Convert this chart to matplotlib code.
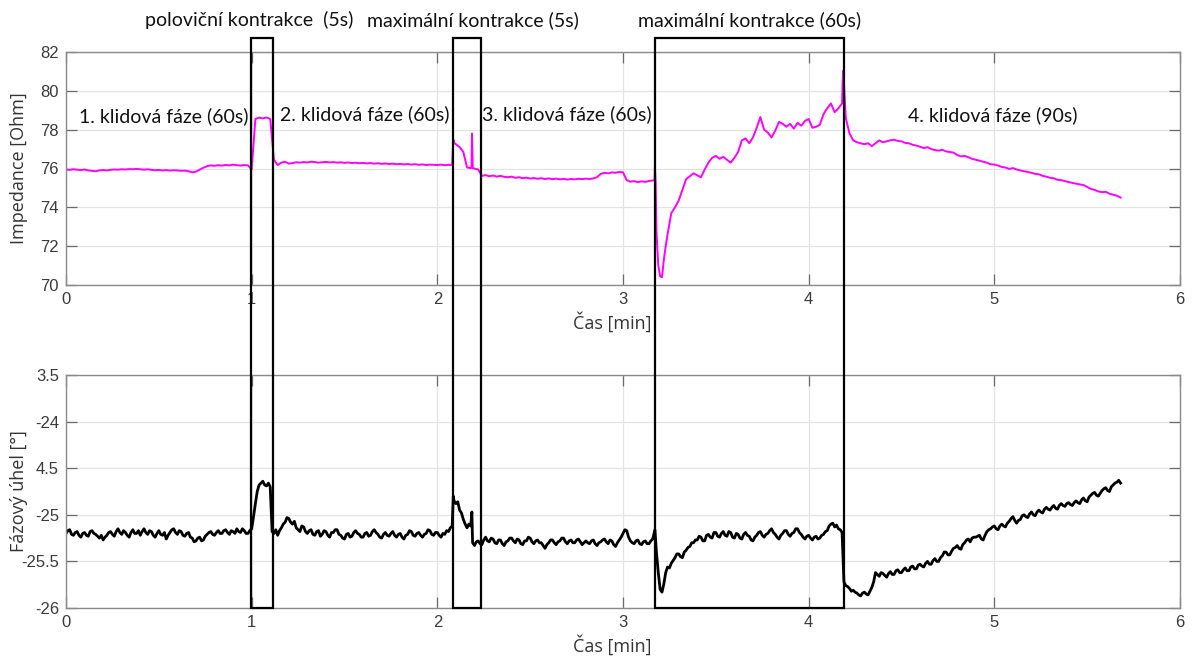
import numpy as np
import matplotlib
matplotlib.use("Agg")
import matplotlib.pyplot as plt
from matplotlib.patches import Rectangle
from matplotlib.transforms import blended_transform_factory

# ---------------- data ----------------
t_imp_grid = np.round(np.arange(0, 5.69, 0.02), 2)
t_ph_grid = np.round(np.arange(0, 5.685, 0.01), 2)

impedance_grid = [
    75.95, 75.93, 75.96, 75.94, 75.92, 75.95, 75.90, 75.88, 75.86, 75.90,
    75.92, 75.90, 75.93, 75.95, 75.94, 75.96, 75.95, 75.97, 75.96, 75.98,
    75.96, 75.94, 75.96, 75.93, 75.91, 75.93, 75.90, 75.92, 75.89, 75.91,
    75.90, 75.88, 75.89, 75.86, 75.80, 75.84, 75.94, 76.04, 76.12, 76.16,
    76.14, 76.17, 76.15, 76.18, 76.16, 76.20, 76.17, 76.15, 76.18, 76.16,
    75.95, 78.55, 78.62, 78.58, 78.63, 78.55, 76.45, 76.18, 76.30, 76.35,
    76.25, 76.28, 76.32, 76.30, 76.33, 76.31, 76.35, 76.33, 76.30, 76.32,
    76.34, 76.31, 76.33, 76.30, 76.32, 76.29, 76.31, 76.28, 76.30, 76.27,
    76.29, 76.26, 76.28, 76.25, 76.27, 76.24, 76.26, 76.23, 76.25, 76.22,
    76.24, 76.21, 76.23, 76.20, 76.22, 76.19, 76.21, 76.18, 76.20, 76.19,
    76.18, 76.20, 76.17, 76.19, 76.18, 77.25, 77.10, 76.85, 76.05, 76.02,
    76.00, 75.95, 75.62, 75.66, 75.60, 75.64, 75.58, 75.62, 75.57, 75.55,
    75.58, 75.52, 75.55, 75.50, 75.53, 75.48, 75.51, 75.47, 75.50, 75.46,
    75.49, 75.45, 75.48, 75.44, 75.47, 75.43, 75.46, 75.44, 75.47, 75.45,
    75.48, 75.46, 75.49, 75.55, 75.72, 75.78, 75.75, 75.80, 75.78, 75.82,
    75.80, 75.40, 75.32, 75.35, 75.30, 75.34, 75.31, 75.36, 75.38, 72.80,
    70.45, 71.30, 72.60, 73.70, 74.00, 74.35, 74.90, 75.45, 75.60, 75.75,
    75.65, 75.55, 75.95, 76.30, 76.55, 76.65, 76.50, 76.60, 76.45, 76.30,
    76.55, 76.85, 77.45, 77.55, 77.30, 77.60, 78.10, 78.65, 78.00, 77.85,
    77.60, 77.95, 78.40, 78.30, 78.15, 78.30, 78.05, 78.35, 78.20, 78.45,
    78.55, 78.10, 78.15, 78.25, 78.80, 79.10, 79.35, 78.90, 79.10, 79.35,
    78.60, 77.80, 77.45, 77.35, 77.30, 77.25, 77.30, 77.15, 77.30, 77.45,
    77.35, 77.40, 77.45, 77.48, 77.42, 77.40, 77.32, 77.30, 77.22, 77.18,
    77.12, 77.05, 77.10, 77.00, 76.95, 76.92, 76.96, 76.88, 76.85, 76.82,
    76.70, 76.62, 76.65, 76.58, 76.50, 76.45, 76.40, 76.35, 76.30, 76.22,
    76.20, 76.15, 76.08, 76.05, 75.98, 76.02, 75.95, 75.90, 75.86, 75.82,
    75.78, 75.72, 75.70, 75.62, 75.58, 75.52, 75.50, 75.42, 75.40, 75.35,
    75.30, 75.26, 75.22, 75.18, 75.15, 75.05, 74.95, 74.90, 74.82, 74.78,
    74.80, 74.70, 74.65, 74.60, 74.50,
]
# extra impedance samples at sharp features
imp_extra_t = [2.086, 2.092, 2.184, 2.187, 2.191, 3.170, 3.172, 3.176, 3.190, 3.210, 3.230, 4.183, 4.187, 4.192]
imp_extra_v = [77.50, 77.30, 76.05, 77.80, 76.02, 75.40, 76.10, 75.20, 71.00, 70.40, 72.00, 80.50, 81.05, 80.00]

phase_grid = [
    -25.20, -25.17, -25.16, -25.21, -25.22, -25.19, -25.18, -25.22, -25.24, -25.20, -25.19, -25.22, -25.23, -25.18, -25.17, -25.20, -25.21, -25.23, -25.25, -25.22,
    -25.27, -25.24, -25.22, -25.19, -25.18, -25.21, -25.23, -25.18, -25.15, -25.19, -25.21, -25.17, -25.19, -25.22, -25.24, -25.19, -25.16, -25.20, -25.20, -25.17,
    -25.22, -25.18, -25.15, -25.19, -25.21, -25.17, -25.18, -25.22, -25.24, -25.20, -25.17, -25.21, -25.22, -25.19, -25.26, -25.22, -25.19, -25.16, -25.15, -25.19,
    -25.21, -25.17, -25.18, -25.22, -25.23, -25.20, -25.19, -25.24, -25.25, -25.29, -25.28, -25.25, -25.24, -25.28, -25.27, -25.23, -25.21, -25.19, -25.18, -25.21,
    -25.22, -25.19, -25.17, -25.20, -25.20, -25.17, -25.16, -25.19, -25.21, -25.17, -25.18, -25.20, -25.15, -25.18, -25.19, -25.15, -25.17, -25.20, -25.20, -25.17,
    -25.15, -25.02, -24.88, -24.75, -24.68, -24.66, -24.64, -24.68, -24.69, -24.66, -24.70, -25.18, -25.20, -25.16, -25.22, -25.17, -25.14, -25.10, -25.08, -25.03,
    -25.04, -25.08, -25.10, -25.07, -25.14, -25.16, -25.18, -25.12, -25.13, -25.18, -25.20, -25.17, -25.16, -25.21, -25.22, -25.18, -25.17, -25.23, -25.21, -25.17,
    -25.18, -25.22, -25.24, -25.19, -25.19, -25.16, -25.16, -25.21, -25.22, -25.25, -25.26, -25.21, -25.20, -25.24, -25.23, -25.19, -25.17, -25.20, -25.21, -25.24,
    -25.24, -25.20, -25.19, -25.23, -25.22, -25.18, -25.16, -25.19, -25.21, -25.24, -25.25, -25.21, -25.19, -25.22, -25.23, -25.20, -25.18, -25.22, -25.24, -25.21,
    -25.20, -25.24, -25.26, -25.22, -25.21, -25.17, -25.18, -25.22, -25.23, -25.20, -25.19, -25.22, -25.24, -25.21, -25.20, -25.16, -25.17, -25.21, -25.22, -25.19,
    -25.19, -25.22, -25.24, -25.20, -25.21, -25.17, -25.18, -25.14, -25.12, -24.85, -24.88, -24.86, -24.95, -24.98, -25.05, -25.10, -25.14, -25.10, -25.12, -25.30,
    -25.33, -25.29, -25.28, -25.31, -25.32, -25.27, -25.24, -25.28, -25.29, -25.25, -25.26, -25.30, -25.31, -25.27, -25.27, -25.31, -25.33, -25.29, -25.28, -25.25,
    -25.25, -25.28, -25.30, -25.26, -25.27, -25.31, -25.32, -25.28, -25.28, -25.24, -25.25, -25.29, -25.31, -25.28, -25.27, -25.30, -25.30, -25.33, -25.36, -25.32,
    -25.30, -25.27, -25.27, -25.30, -25.32, -25.29, -25.28, -25.25, -25.25, -25.29, -25.31, -25.28, -25.27, -25.30, -25.30, -25.27, -25.26, -25.29, -25.32, -25.30,
    -25.28, -25.30, -25.31, -25.28, -25.27, -25.31, -25.33, -25.30, -25.29, -25.27, -25.26, -25.29, -25.31, -25.27, -25.28, -25.32, -25.34, -25.30, -25.27, -25.24,
    -25.20, -25.16, -25.17, -25.24, -25.28, -25.30, -25.31, -25.28, -25.27, -25.31, -25.32, -25.29, -25.28, -25.31, -25.31, -25.28, -25.26, -25.18, -25.40, -25.62,
    -25.80, -25.83, -25.74, -25.62, -25.56, -25.57, -25.52, -25.49, -25.46, -25.42, -25.42, -25.45, -25.46, -25.40, -25.38, -25.35, -25.34, -25.30, -25.30, -25.27,
    -25.27, -25.23, -25.24, -25.28, -25.28, -25.22, -25.21, -25.24, -25.25, -25.19, -25.19, -25.23, -25.24, -25.20, -25.18, -25.22, -25.23, -25.18, -25.19, -25.24,
    -25.25, -25.20, -25.21, -25.25, -25.26, -25.21, -25.19, -25.22, -25.23, -25.27, -25.28, -25.24, -25.22, -25.19, -25.18, -25.22, -25.24, -25.21, -25.20, -25.17,
    -25.15, -25.19, -25.21, -25.24, -25.26, -25.22, -25.20, -25.17, -25.17, -25.21, -25.23, -25.20, -25.19, -25.15, -25.15, -25.19, -25.21, -25.24, -25.26, -25.23,
    -25.22, -25.25, -25.27, -25.24, -25.23, -25.26, -25.25, -25.22, -25.21, -25.18, -25.17, -25.12, -25.10, -25.09, -25.13, -25.11, -25.15, -25.16, -25.19, -25.72,
    -25.76, -25.77, -25.79, -25.82, -25.81, -25.83, -25.84, -25.86, -25.87, -25.84, -25.83, -25.85, -25.86, -25.82, -25.78, -25.72, -25.62, -25.64, -25.66, -25.62,
    -25.63, -25.65, -25.67, -25.63, -25.61, -25.64, -25.64, -25.60, -25.59, -25.62, -25.62, -25.59, -25.57, -25.60, -25.60, -25.56, -25.55, -25.58, -25.58, -25.54,
    -25.53, -25.55, -25.56, -25.52, -25.50, -25.53, -25.53, -25.49, -25.47, -25.50, -25.50, -25.46, -25.44, -25.40, -25.40, -25.43, -25.43, -25.39, -25.36, -25.35,
    -25.33, -25.36, -25.37, -25.32, -25.30, -25.27, -25.26, -25.29, -25.25, -25.24, -25.24, -25.23, -25.22, -25.26, -25.27, -25.22, -25.18, -25.16, -25.15, -25.13,
    -25.12, -25.15, -25.16, -25.12, -25.10, -25.12, -25.13, -25.09, -25.07, -25.04, -25.02, -25.06, -25.09, -25.06, -25.05, -25.01, -25.00, -25.02, -25.03, -24.99,
    -24.97, -25.00, -25.01, -24.97, -24.95, -24.97, -24.98, -24.94, -24.92, -24.94, -24.95, -24.92, -24.90, -24.93, -24.94, -24.90, -24.88, -24.90, -24.91, -24.88,
    -24.87, -24.89, -24.90, -24.87, -24.85, -24.87, -24.88, -24.84, -24.82, -24.85, -24.86, -24.81, -24.79, -24.77, -24.76, -24.79, -24.80, -24.77, -24.74, -24.72,
    -24.71, -24.74, -24.75, -24.70, -24.68, -24.66, -24.65, -24.63, -24.66,
]
ph_extra_t = [2.086, 2.186, 3.172]
ph_extra_v = [-24.80, -24.97, -25.16]

# contraction intervals [min]
box_start = [0.996, 2.084, 3.172]
box_end = [1.115, 2.235, 4.190]
box_titles = ["poloviční kontrakce  (5s)", "maximální kontrakce (5s)", "maximální kontrakce (60s)"]
box_title_x = [0.985, 2.19, 3.68]

rest_labels = ["1. klidová fáze (60s)", "2. klidová fáze (60s)", "3. klidová fáze (60s)", "4. klidová fáze (90s)"]
rest_label_x = [0.528, 1.61, 2.70, 4.99]
rest_label_y = [78.7, 78.8, 78.8, 78.75]

x_ticks = [0, 1, 2, 3, 4, 5, 6]
imp_ticks = [70, 72, 74, 76, 78, 80, 82]
ph_ticks = [-26, -25.5, -25, -24.5, -24, -23.5]
ph_ticklabels = ["-26", "-25.5", "-25", "4.5", "-24", "3.5"]


def merged(tg, vg, te, ve):
    t = np.concatenate([np.asarray(tg, float), np.asarray(te, float)])
    v = np.concatenate([np.asarray(vg, float), np.asarray(ve, float)])
    o = np.argsort(t, kind="stable")
    return t[o], v[o]


t_imp, v_imp = merged(t_imp_grid, impedance_grid, imp_extra_t, imp_extra_v)
t_ph, v_ph = merged(t_ph_grid, phase_grid, ph_extra_t, ph_extra_v)

# ---------------- figure ----------------
fig = plt.figure(figsize=(11.92, 6.56), dpi=100)
ax1 = fig.add_axes([66 / 1192, 1 - 285 / 656, 1114 / 1192, 233 / 656])
ax2 = fig.add_axes([66 / 1192, 1 - 608 / 656, 1114 / 1192, 233 / 656])
ax1.set_zorder(3)

label_font = dict(family="Open Sans", size=13, color="#333333")

for ax in (ax1, ax2):
    ax.set_xlim(0, 6)
    ax.set_xticks(x_ticks)
    ax.grid(True, color="#e3e3e3", linewidth=0.9)
    ax.set_axisbelow(True)
    for s in ax.spines.values():
        s.set_color("#8a8a8a")
        s.set_linewidth(1.0)
    ax.tick_params(direction="in", length=8, width=0.9, color="#6a6a6a",
                   top=True, right=True, labelsize=12, labelcolor="#3a3a3a", pad=5)
    ax.set_xlabel("Čas [min]", fontdict=label_font)
    ax.xaxis.set_label_coords(0.49, -0.16)
    ax.xaxis.label.set_va("center")

ax1.plot(t_imp, v_imp, color="#ff00ff", linewidth=1.4)
ax1.set_ylim(70, 82)
ax1.set_yticks(imp_ticks)
ax1.set_ylabel("Impedance [Ohm]", fontdict=label_font)

ax2.plot(t_ph, v_ph, color="black", linewidth=2.0)
ax2.set_ylim(-26, -23.5)
ax2.set_yticks(ph_ticks)
ax2.set_yticklabels(ph_ticklabels)
ax2.set_ylabel("Fázový úhel [°]", fontdict=label_font)

for ax in (ax1, ax2):
    ax.yaxis.set_label_coords(-0.042, 0.5)
    ax.yaxis.label.set_va("center")
    ax.yaxis.label.set_rotation_mode("anchor")
    for lab in ax.get_xticklabels() + ax.get_yticklabels():
        lab.set_fontfamily("Liberation Sans")

# rectangles spanning both panels
trans = blended_transform_factory(ax1.transData, ax1.transAxes)
y_bottom = (285 - 608) / 233
y_top = (285 - 38) / 233
for xs, xe in zip(box_start, box_end):
    ax1.add_patch(Rectangle((xs, y_bottom), xe - xs, y_top - y_bottom, transform=trans,
                            fill=False, edgecolor="black", linewidth=1.6,
                            clip_on=False, zorder=10))

for x, txt in zip(box_title_x, box_titles):
    ax1.text(x, (285 - 20) / 233, txt, transform=trans, ha="center", va="center",
             family="Lato", fontsize=14, color="#111111")

for x, y, txt in zip(rest_label_x, rest_label_y, rest_labels):
    ax1.text(x, y, txt, ha="center", va="center", family="Lato", fontsize=14,
             color="#111111", zorder=5)

fig.savefig("out.png", dpi=100, facecolor="white")
